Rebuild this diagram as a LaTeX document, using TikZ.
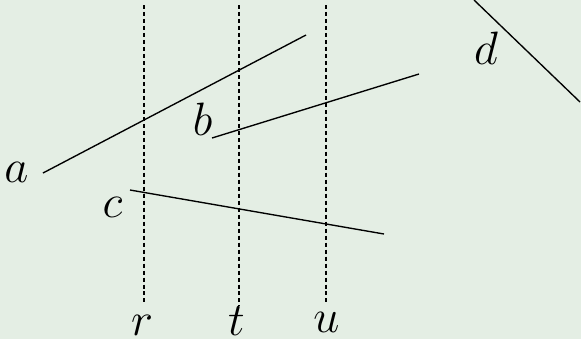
\documentclass[tikz,border=0pt]{standalone}
\usetikzlibrary{calc}
\definecolor{bgc}{RGB}{228,238,228}
\begin{document}
\begin{tikzpicture}[x=0.3077pt,y=-0.3077pt,
  seg/.style={line width=0.42pt,black},
  guide/.style={line width=0.32pt,black,dash pattern=on 1.23pt off 0.92pt},
  lbl/.style={inner sep=0pt,anchor=base,font=\Large}]
\fill[bgc] (0,0) rectangle (581,339);
\useasboundingbox (0,0) rectangle (581,339);
% guide lines
\coordinate (r1) at (144,5); \coordinate (r2) at (144,305);
\coordinate (t1) at (239,5); \coordinate (t2) at (239,306);
\coordinate (u1) at (326,5); \coordinate (u2) at (326,305);
\draw[guide] (r1) -- (r2);
\draw[guide] (t1) -- (t2);
\draw[guide] (u1) -- (u2);
% segments
\coordinate (a1) at (43,173); \coordinate (a2) at (306,35);
\coordinate (b1) at (212,138); \coordinate (b2) at (419,74);
\coordinate (c1) at (130,190); \coordinate (c2) at (384,234);
\coordinate (d1) at (474,0); \coordinate (d2) at (580,102);
\draw[seg] (a1) -- (a2);
\draw[seg] (b1) -- (b2);
\draw[seg] (c1) -- (c2);
\draw[seg] (d1) -- (d2);
% labels
\node[lbl] (la) at (16.5,182) {$a$};
\node[lbl] (lb) at (202.5,135) {$b$};
\node[lbl] (lc) at (112.5,217) {$c$};
\node[lbl] (ld) at (486,64) {$d$};
\node[lbl] (lr) at (142,335) {$r$};
\node[lbl] (lt) at (236.5,335) {$t$};
\node[lbl] (lu) at (326.5,332) {$u$};
\end{tikzpicture}
\end{document}
